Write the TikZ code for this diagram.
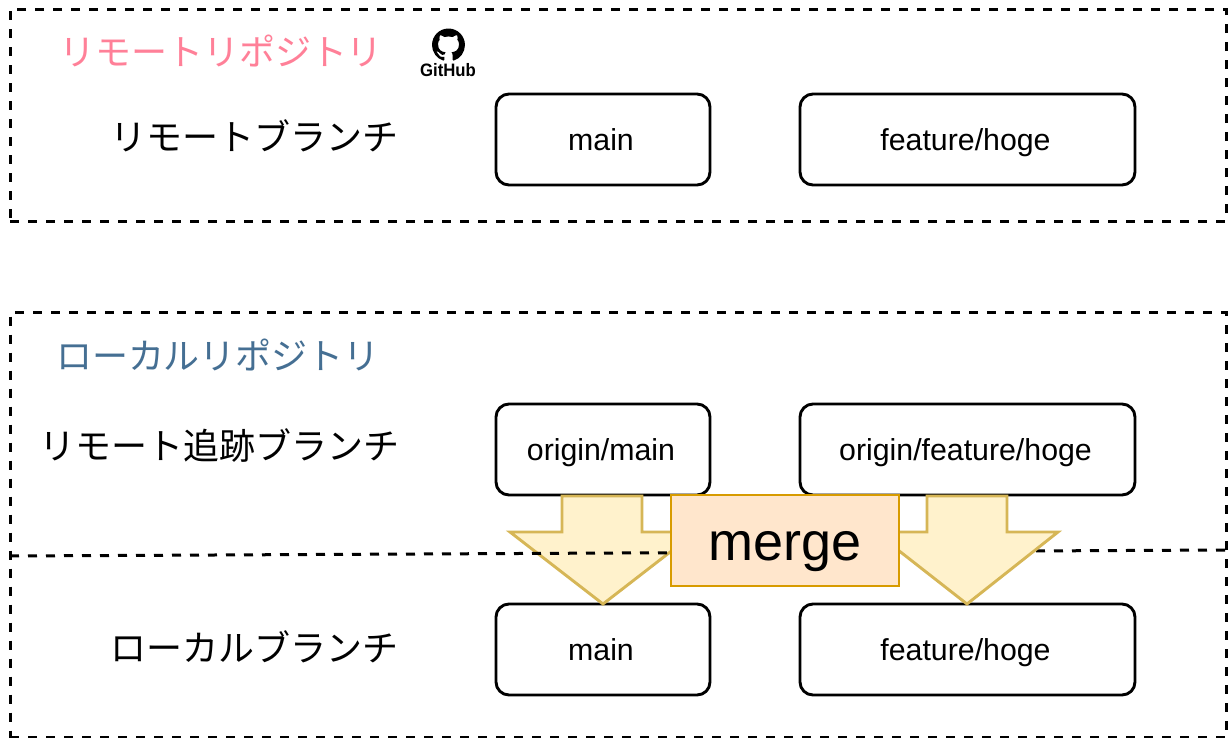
\documentclass[tikz,border=0pt]{standalone}
\usepackage{fontspec}
\setmainfont{Liberation Sans}
\newfontfamily\cjk{Noto Sans CJK JP}
\usetikzlibrary{svg.path}
\definecolor{pinkt}{HTML}{FF8098}
\definecolor{bluet}{HTML}{456F93}
\definecolor{arrowfill}{HTML}{FFF2CC}
\definecolor{arrowdraw}{HTML}{D6B656}
\definecolor{mergefill}{HTML}{FFE6CC}
\definecolor{mergedraw}{HTML}{D79B00}
\tikzset{
  dashline/.style={line width=3pt,dash pattern=on 9pt off 9pt},
  repo/.style={draw,dashline,anchor=north west,inner sep=0pt,outer sep=0pt},
  branch/.style={draw,line width=2.9pt,rounded corners=13pt,anchor=north west,inner sep=0pt,outer sep=0pt,text height=21pt,text depth=0pt,font=\fontsize{30.3}{34}\selectfont,execute at end node=\kern4pt},
  jp/.style={font=\cjk\fontsize{36}{40}\selectfont,inner sep=0pt},
  blockarrow/.style={fill=arrowfill,draw=arrowdraw,line width=2.9pt,line join=miter},
  mergebox/.style={fill=mergefill,draw=mergedraw,line width=2.7pt,anchor=north west,inner sep=0pt,outer sep=0pt,text height=39pt,text depth=0pt,font=\fontsize{54}{60}\selectfont}
}
\begin{document}
\begin{tikzpicture}[x=1pt,y=-1pt]
\useasboundingbox (0,0) rectangle (1229,737);
\fill[white] (0,0) rectangle (1229,737);
\node[repo,minimum width=1216pt,minimum height=212pt] (remote) at (10,9) {};
\begin{scope}
\clip (0,0) rectangle (1229,737);
\node[repo,minimum width=1216pt,minimum height=425.5pt] (local) at (10,312) {};
\end{scope}
\node[jp,text=pinkt] (t1) at (221,51) {リモートリポジトリ};
\node[jp,text=bluet] (t2) at (218,355) {ローカルリポジトリ};
\node[jp] (l1) at (254,136) {リモートブランチ};
\node[jp] (l2) at (219,446) {リモート追跡ブランチ};
\node[jp] (l3) at (254,647) {ローカルブランチ};
\node[branch,minimum width=214pt,minimum height=91pt] (rmain) at (496,94) {main};
\node[branch,minimum width=335pt,minimum height=91pt] (rfeat) at (800,94) {feature/hoge};
\node[branch,minimum width=214pt,minimum height=91pt] (omain) at (496,404) {origin/main};
\node[branch,minimum width=335pt,minimum height=91pt] (ofeat) at (800,404) {origin/feature/hoge};
\node[branch,minimum width=214pt,minimum height=91pt] (lmain) at (496,604) {main};
\node[branch,minimum width=335pt,minimum height=91pt] (lfeat) at (800,604) {feature/hoge};
\draw[blockarrow] (562,496) -- (642,496) -- (642,532) -- (696,532) -- (603,604) -- (510,532) -- (562,532) -- cycle;
\coordinate (divl) at (10,556);
\coordinate (divr) at (1226,550);
\draw[dashline] (divl) -- (divr);
\draw[blockarrow] (927,496) -- (1007,496) -- (1007,532) -- (1058,532) -- (967,604) -- (875,532) -- (927,532) -- cycle;
\node[mergebox,minimum width=228pt,minimum height=91pt] (merge) at (671,495) {merge};
% GitHub mark
\begin{scope}[shift={(432,28.5)},scale=2.06,yscale=-1]
\fill[black] svg {M8 0C3.58 0 0 3.58 0 8c0 3.54 2.29 6.53 5.47 7.59 .4 .07 .55 -.17 .55 -.38 0 -.19 -.01 -.82 -.01 -1.49 -2.01 .37 -2.53 -.49 -2.69 -.94 -.09 -.23 -.48 -.94 -.82 -1.13 -.28 -.15 -.68 -.52 -.01 -.53 .63 -.01 1.08 .58 1.23 .82 .72 1.21 1.87 .87 2.33 .66 .07 -.52 .28 -.87 .51 -1.07 -1.78 -.2 -3.64 -.89 -3.64 -3.95 0 -.87 .31 -1.59 .82 -2.15 -.08 -.2 -.36 -1.02 .08 -2.12 0 0 .67 -.21 2.2 .82 .64 -.18 1.32 -.27 2 -.27 .68 0 1.36 .09 2 .27 1.53 -1.04 2.2 -.82 2.2 -.82 .44 1.1 .16 1.92 .08 2.12 .51 .56 .82 1.27 .82 2.15 0 3.07 -1.87 3.75 -3.65 3.95 .29 .25 .54 .73 .54 1.48 0 1.07 -.01 1.93 -.01 2.2 0 .21 .15 .46 .55 .38 C13.71 14.53 16 11.53 16 8c0 -4.42 -3.58 -8 -8 -8z};
\end{scope}
\node[inner sep=0pt,xscale=0.93,font=\bfseries\fontsize{18}{20}\selectfont] (gh) at (448,70) {GitHub};
\end{tikzpicture}
\end{document}
